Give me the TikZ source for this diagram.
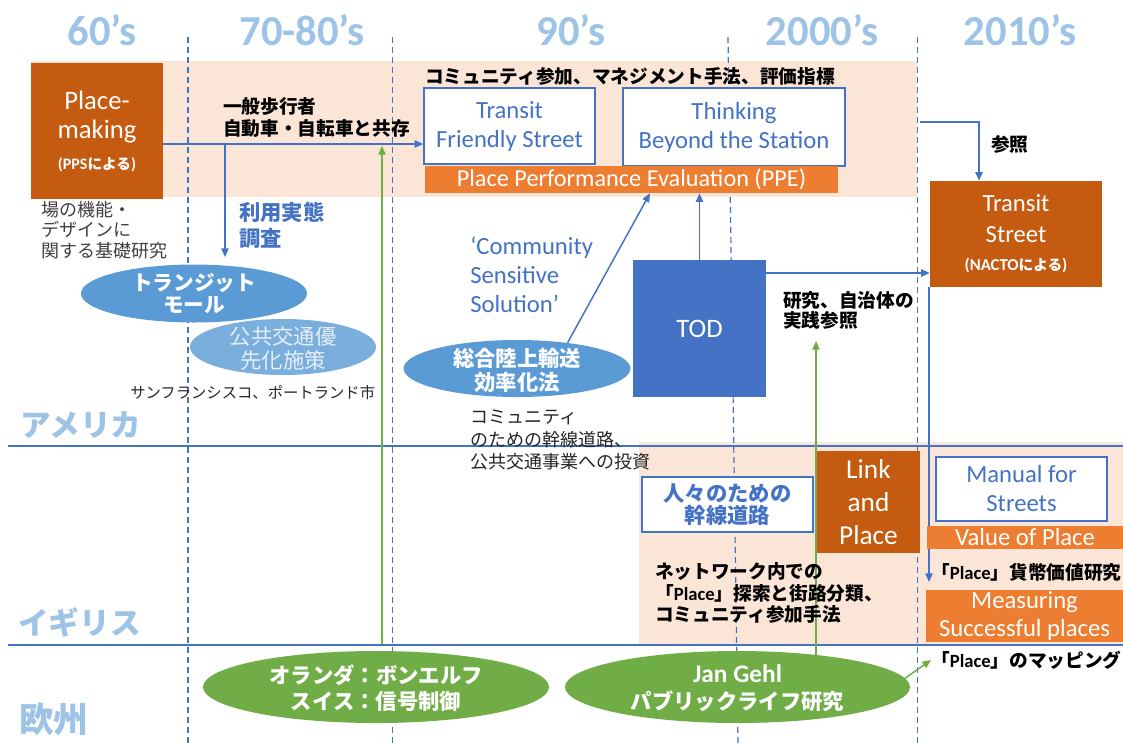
\documentclass[tikz,border=0pt]{standalone}
\usepackage{fontspec}
\setmainfont{Carlito}
\newfontfamily\jp{Noto Sans CJK JP}
\newfontfamily\lat{Carlito}
\usetikzlibrary{arrows.meta,shapes.geometric}
\definecolor{cblue}{HTML}{4472C4}
\definecolor{cmid}{HTML}{5B9BD5}
\definecolor{clight}{HTML}{7AAEDD}
\definecolor{cpale}{HTML}{E6EFF9}
\definecolor{chead}{HTML}{9DC3E6}
\definecolor{cgreen}{HTML}{70AD47}
\definecolor{dorange}{HTML}{C55A11}
\definecolor{corange}{HTML}{ED7D31}
\definecolor{cpeach}{HTML}{FBE5D6}
\definecolor{cgray}{HTML}{404040}
\definecolor{cdark}{HTML}{262626}
\tikzset{
  conn/.style={line width=1.1pt,-{Triangle[length=6.5pt,width=5.5pt]}},
  arr/.style={conn,draw=cblue},
  garr/.style={conn,draw=cgreen},
  vdash/.style={draw=cblue,line width=0.9pt,dash pattern=on 4.5pt off 3pt},
  hline/.style={draw=cblue,line width=1.1pt},
  decade/.style={font=\lat\bfseries\fontsize{32}{36}\selectfont,text=chead,anchor=base,inner sep=0pt},
  region/.style={font=\jp\bfseries\fontsize{23}{27}\selectfont,text=chead,anchor=west,inner sep=0pt},
  darkbox/.style={fill=dorange,text=white,inner sep=0pt,align=center},
  whitebox/.style={draw=cblue,line width=1.1pt,fill=white,text=cblue,inner sep=0pt,align=center},
  obar/.style={fill=corange,text=white,inner sep=0pt,align=center},
  oval/.style={ellipse,inner sep=0pt,draw=none},
  ovaltext/.style={inner sep=0pt,align=center},
  note/.style={anchor=west,inner sep=0pt,align=left},
}
\begin{document}
\begin{tikzpicture}[x=0.75pt,y=-0.75pt]
\useasboundingbox (0,0) rectangle (1123,744);
\fill[white] (0,0) rectangle (1123,744);
% bands
\fill[cpeach] (31,61) rectangle (917,197);
\fill[cpeach] (639,442) rectangle (1123,645);
% decade lines
\draw[vdash] (188,37) -- (188,744);
\draw[vdash] (392.5,37) -- (392.5,744);
\draw[vdash] (728,37) -- (738,744);
\draw[vdash] (917.5,37) -- (917.5,744);
% region lines
\draw[hline] (8,446) -- (1123,446);
\draw[hline] (8,645) -- (1123,645);
% decades
\node[decade] (d60) at (102,45) {60’s};
\node[decade] (d70) at (302,45) {70-80’s};
\node[decade] (d90) at (571,45) {90’s};
\node[decade] (d00) at (822,45) {2000’s};
\node[decade] (d10) at (1020,45) {2010’s};
% regions
\node[region] (us) at (20,425) {アメリカ};
\node[region] (uk) at (18,622) {イギリス};
\node[region,font=\jp\bfseries\fontsize{26}{30}\selectfont] (eu) at (19,719) {欧州};
% boxes
\node[darkbox,minimum width=99pt,minimum height=102pt,font=\lat\fontsize{20}{22}\selectfont] (pm) at (97,131)
  {Place-\\making\\[1pt]{\jp\bfseries\fontsize{11}{12}\selectfont{\lat\bfseries\fontsize{12}{12}\selectfont (PPS}による{\lat\bfseries\fontsize{12}{12}\selectfont )}}};
\node[whitebox,minimum width=128.25pt,minimum height=57pt,font=\lat\fontsize{18.5}{21.75}\selectfont] (tfs) at (509.5,126) {Transit\\Friendly Street};
\node[whitebox,minimum width=166.5pt,minimum height=58.5pt,font=\lat\fontsize{18.5}{21.75}\selectfont] (tbs) at (734,127) {Thinking\\Beyond the Station};
\node[obar,minimum width=309.75pt,minimum height=20.25pt,font=\lat\fontsize{18.2}{20}\selectfont] (ppe) at (631.5,179.5) {Place Performance Evaluation (PPE)};
\node[fill=cblue,text=white,inner sep=0pt,minimum width=99.75pt,minimum height=102.75pt,font=\lat\fontsize{20}{22}\selectfont] (tod) at (699.5,328.5) {TOD};
\node[darkbox,minimum width=129pt,minimum height=79.5pt,font=\lat\fontsize{18.5}{23}\selectfont] (ts) at (1016,234)
  {Transit\\Street\\[-2pt]{\jp\bfseries\fontsize{11}{12}\selectfont{\lat\bfseries\fontsize{12.5}{12}\selectfont (NACTO}による{\lat\bfseries\fontsize{12.5}{12}\selectfont )}}};
\node[whitebox,minimum width=128.25pt,minimum height=41.25pt,font=\jp\bfseries\fontsize{16}{16.5}\selectfont] (ppl) at (727.5,504.5) {人々のための\\幹線道路};
\node[darkbox,minimum width=77.25pt,minimum height=76.5pt,font=\lat\fontsize{20.5}{24.75}\selectfont] (lp) at (868.5,502) {Link\\and\\Place};
\node[whitebox,minimum width=128.25pt,minimum height=48pt,font=\lat\fontsize{18.5}{21.75}\selectfont] (mfs) at (1021.5,489) {Manual for\\Streets};
\node[obar,minimum width=147.75pt,minimum height=39pt,font=\lat\fontsize{18.5}{21}\selectfont] (msp) at (1024.5,616) {Measuring\\Successful places};
% connectors (behind ellipses)
\coordinate (nlTop) at (382,644);
\coordinate (nlEnd) at (382,146);
\draw[garr] (nlTop) -- (nlEnd);
\coordinate (jgS) at (816,662);
\coordinate (jgE) at (816,341);
\draw[garr] (jgS) -- (jgE);
\coordinate (colC) at (929,0);
\coordinate (dnEnd) at (929,582);
\draw[arr] (ts.south -| colC) -- (dnEnd);
\node[obar,minimum width=147pt,minimum height=17.25pt,font=\lat\fontsize{18.5}{20}\selectfont] (vop) at (1025,537.5) {Value of Place};
% ellipses
\node[oval,fill=cmid,minimum width=169.5pt,minimum height=43.5pt] (tm) at (194,293.5) {};
\node[ovaltext,text=white,font=\jp\bfseries\fontsize{15.5}{16.5}\selectfont] (tmt) at (194,294) {トランジット\\モール};
\node[oval,fill=clight,minimum width=139.5pt,minimum height=42pt] (pt) at (283,347) {};
\node[ovaltext,text=cpale,font=\jp\fontsize{16}{18}\selectfont] (ptt) at (283,348) {公共交通優\\先化施策};
\node[oval,fill=cmid,minimum width=170.25pt,minimum height=42.75pt] (sl) at (517,368.5) {};
\node[ovaltext,text=white,font=\jp\bfseries\fontsize{16}{18}\selectfont] (slt) at (517,370) {総合陸上輸送\\効率化法};
\node[oval,fill=cgreen,minimum width=259.5pt,minimum height=54pt] (nl) at (376,687) {};
\node[ovaltext,text=white,font=\jp\bfseries\fontsize{16}{20}\selectfont] (nlt) at (376,688) {オランダ：ボンエルフ\\スイス：信号制御};
\node[oval,fill=cgreen,minimum width=258.75pt,minimum height=54pt] (jg) at (737.5,687) {};
\node[ovaltext,text=white,font=\jp\bfseries\fontsize{16}{20}\selectfont] (jgt) at (737.5,688) {{\lat\bfseries\fontsize{19}{20}\selectfont Jan Gehl}\\パブリックライフ研究};
% other connectors
\coordinate (rowA) at (0,144);
\draw[arr] (pm.east |- rowA) -- (tfs.west |- rowA);
\coordinate (brA) at (225,144);
\coordinate (brB) at (225,257);
\draw[arr] (brA) -- (brB);
\coordinate (ppeA) at (650,0);
\draw[arr] (sl.27) -- (ppe.south -| ppeA);
\draw[arr] (tod.north) -- (tod.north |- ppe.south);
\coordinate (rowB) at (0,273);
\draw[arr] (tod.east |- rowB) -- (ts.west |- rowB);
\coordinate (refS) at (920,122);
\coordinate (refC) at (979,0);
\draw[arr] (refS) -| (ts.north -| refC);
% texts
\node[note,font=\jp\bfseries\fontsize{14}{16.5}\selectfont] (t1) at (223,117.5) {一般歩行者\\自動車・自転車と共存};
\node[note,font=\jp\bfseries\fontsize{14}{16.5}\selectfont] (t2) at (425,76) {コミュニティ参加、マネジメント手法、評価指標};
\node[note,text=cgray,font=\jp\fontsize{13.5}{15.4}\selectfont] (t3) at (41,230) {場の機能・\\デザインに\\関する基礎研究};
\node[note,text=cblue,font=\jp\bfseries\fontsize{16}{19.5}\selectfont] (t4) at (239,225) {利用実態\\調査};
\node[note,text=cdark,font=\jp\fontsize{11.5}{13}\selectfont] (t5) at (130,393) {サンフランシスコ、ポートランド市};
\node[note,text=cblue,font=\lat\fontsize{18.5}{21.75}\selectfont] (t6) at (470,275) {‘Community\\Sensitive\\Solution’};
\node[note,text=cdark,font=\jp\fontsize{13.5}{17}\selectfont] (t7) at (470,440) {コミュニティ\\のための幹線道路、\\公共交通事業への投資};
\node[note,font=\jp\bfseries\fontsize{14}{15}\selectfont] (t8) at (783,310) {研究、自治体の\\実践参照};
\node[note,font=\jp\bfseries\fontsize{14}{16}\selectfont] (t9) at (991,144) {参照};
\node[note,font=\jp\bfseries\fontsize{14}{16}\selectfont] (t10) at (655,593) {ネットワーク内での\\「{\lat Place}」探索と街路分類、\\コミュニティ参加手法};
\node[note,font=\jp\bfseries\fontsize{14}{16}\selectfont] (t11) at (931,572) {「{\lat Place}」貨幣価値研究};
\node[note,font=\jp\bfseries\fontsize{14}{16}\selectfont] (t12) at (931,660) {「{\lat Place}」のマッピング};
\draw[garr] (jg.3) -- (t12.west);
\end{tikzpicture}
\end{document}
